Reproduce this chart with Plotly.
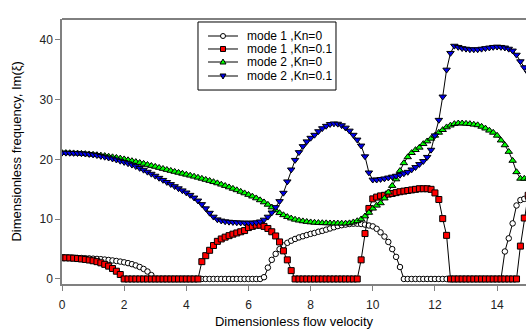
import plotly.graph_objects as go

# flow velocity grid (step 0.125, 0 .. 15)
velocity = [i * 0.125 for i in range(121)]

mode1_kn0 = [
    3.55, 3.55, 3.54, 3.53, 3.52, 3.50, 3.47, 3.44,
    3.40, 3.36, 3.31, 3.25, 3.18, 3.10, 3.01, 2.91,
    2.79, 2.65, 2.48, 2.27, 2.01, 1.68, 1.25, 0.65,
    0, 0, 0, 0, 0, 0, 0, 0,
    0, 0, 0, 0, 0, 0, 0, 0,
    0, 0, 0, 0, 0, 0, 0, 0,
    0, 0, 0, 0, 0.3, 1.9, 3.2, 4.2,
    5.0, 5.6, 6.05, 6.4, 6.7, 6.95, 7.15, 7.35,
    7.55, 7.7, 7.9, 8.05, 8.25, 8.45, 8.65, 8.85,
    9.0, 9.1, 9.2, 9.25, 9.25, 9.2, 9.1, 8.95,
    8.8, 8.4, 7.8, 7.1, 6.2, 5.0, 3.7, 2.0,
    0, 0, 0, 0, 0, 0, 0, 0,
    0, 0, 0, 0, 0, 0, 0, 0,
    0, 0, 0, 0, 0, 0, 0, 0,
    0, 0, 4.6, 6.8, 9.3, 12.3, 13.2, 13.4,
    13.5,
]

mode1_kn01 = [
    3.55, 3.54, 3.52, 3.48, 3.42, 3.35, 3.27, 3.17,
    3.05, 2.90, 2.70, 2.45, 2.15, 1.75, 1.30, 0.75,
    0, 0, 0, 0, 0, 0, 0, 0,
    0, 0, 0, 0, 0, 0, 0, 0,
    0, 0, 0, 0, 2.9, 3.9, 4.8, 5.6,
    6.3, 6.7, 7.0, 7.25, 7.5, 7.7, 7.9, 8.1,
    8.6, 8.8, 9.0, 9.0, 8.8, 8.45, 7.9, 7.2,
    6.2, 4.7, 3.2, 1.4, 0, 0, 0, 0,
    0, 0, 0, 0, 0, 0, 0, 0,
    0, 0, 0, 0, 0, 3.2, 7.6, 11.8,
    13.4, 13.7, 13.9, 14.0, 14.2, 14.3, 14.45, 14.6,
    14.7, 14.8, 14.9, 15.0, 15.1, 15.1, 15.1, 15.0,
    14.4, 13.3, 10.1, 7.3, 0, 0, 0, 0,
    0, 0, 0, 0, 0, 0, 0, 0,
    0, 0, 0, 0, 0, 0, 5.5, 10.2,
    14.0,
]

mode2_kn0 = [
    21.1, 21.1, 21.08, 21.05, 21.02, 20.98, 20.93, 20.88,
    20.82, 20.75, 20.68, 20.6, 20.5, 20.4, 20.3, 20.18,
    20.05, 19.9, 19.75, 19.6, 19.45, 19.3, 19.12, 18.95,
    18.8, 18.62, 18.45, 18.28, 18.12, 17.96, 17.8, 17.64,
    17.48, 17.32, 17.15, 16.98, 16.8, 16.62, 16.44, 16.24,
    16.04, 15.82, 15.6, 15.36, 15.12, 14.88, 14.62, 14.36,
    14.1, 13.82, 13.52, 13.2, 12.85, 12.45, 12.0, 11.5,
    11.05, 10.7, 10.4, 10.15, 9.95, 9.8, 9.68, 9.58,
    9.5, 9.44, 9.4, 9.37, 9.35, 9.33, 9.32, 9.31,
    9.3, 9.3, 9.35, 9.5, 9.7, 10.0, 10.5, 11.1,
    11.8, 12.3, 12.7, 13.5, 14.5, 15.6, 16.7, 18.1,
    19.4, 20.4, 21.1, 21.6, 22.0, 22.6, 23.05, 23.5,
    24.0, 24.5, 24.95, 25.4, 25.7, 25.95, 26.05, 26.05,
    26.0, 25.95, 25.85, 25.75, 25.5, 25.2, 24.85, 24.5,
    24.0, 23.2, 22.4, 21.3, 19.8, 17.9, 16.8, 16.8,
    16.8,
]

mode2_kn01 = [
    21.1, 21.1, 21.08, 21.06, 21.04, 21.0, 20.95, 20.88,
    20.8, 20.7, 20.55, 20.42, 20.28, 20.12, 19.95, 19.75,
    19.55, 19.33, 19.1, 18.85, 18.55, 18.25, 17.92, 17.58,
    17.25, 16.9, 16.55, 16.2, 15.85, 15.5, 15.15, 14.8,
    14.45, 14.05, 13.6, 13.1, 12.5, 11.8, 11.05, 10.4,
    9.95, 9.75, 9.62, 9.55, 9.5, 9.45, 9.42, 9.4,
    9.4, 9.4, 9.45, 9.6, 9.9, 10.4, 11.1, 12.0,
    13.0, 14.4, 16.3, 18.3, 19.9, 21.2, 22.2, 23.0,
    23.6, 24.1, 24.7, 25.2, 25.6, 25.9, 26.0, 25.95,
    25.7, 25.3, 24.8, 24.1, 23.3, 22.3, 20.5, 17.8,
    16.6, 16.6, 16.7, 16.8, 16.95, 17.1, 17.25, 17.4,
    17.65, 17.9, 18.3, 18.7, 19.2, 19.7, 20.4, 21.6,
    24.0, 26.6, 30.5, 35.0, 37.8, 39.0, 38.8, 38.6,
    38.5, 38.4, 38.4, 38.4, 38.5, 38.6, 38.7, 38.8,
    38.85, 38.8, 38.7, 38.5, 38.2, 37.5, 36.4, 35.4,
    34.5,
]

series_names = ["mode 1 ,Kn=0", "mode 1 ,Kn=0.1", "mode 2 ,Kn=0", "mode 2 ,Kn=0.1"]
x_ticks = [0, 2, 4, 6, 8, 10, 12, 14]
y_ticks = [0, 10, 20, 30, 40]

fill_colors = ["white", "#ff0000", "#00ff00", "#0000ee"]
symbols = ["circle", "square", "triangle-up", "triangle-down"]
sizes = [5.5, 6, 6.5, 6.5]

fig = go.Figure()
for name, vals, sym, col, sz in zip(series_names, [mode1_kn0, mode1_kn01, mode2_kn0, mode2_kn01],
                                     symbols, fill_colors, sizes):
    fig.add_trace(go.Scatter(
        x=velocity, y=vals, name=name, mode="lines+markers", showlegend=False,
        line=dict(color="black", width=1),
        marker=dict(symbol=sym, color=col, size=sz, line=dict(color="black", width=1)),
    ))

# ---- compact legend drawn as layout shapes + annotations (paper coords) ----
shapes = [
    dict(type="line", xref="paper", yref="paper", x0=0, x1=1, y0=1, y1=1,
         line=dict(color="black", width=1)),
    dict(type="rect", xref="paper", yref="paper", x0=0.2931, x1=0.5905, y0=0.732, y1=0.9887,
         fillcolor="white", line=dict(color="black", width=1), layer="above"),
]
annotations = []
row_y = [0.9358, 0.8868, 0.8377, 0.7849]
lx0, lx1, lxm, tx = 0.3147, 0.3793, 0.347, 0.3944
glyph_paths = {
    "square": "M-2.5,-2.5 L2.5,-2.5 L2.5,2.5 L-2.5,2.5 Z",
    "triangle-up": "M0,3 L3,-2 L-3,-2 Z",
    "triangle-down": "M0,-3 L3,2 L-3,2 Z",
}
for name, sym, col, yy in zip(series_names, symbols, fill_colors, row_y):
    shapes.append(dict(type="line", xref="paper", yref="paper", x0=lx0, x1=lx1, y0=yy, y1=yy,
                       line=dict(color="black", width=1), layer="above"))
    if sym == "circle":
        shapes.append(dict(type="circle", xref="paper", yref="paper",
                           xsizemode="pixel", ysizemode="pixel", xanchor=lxm, yanchor=yy,
                           x0=-2.5, x1=2.5, y0=-2.5, y1=2.5,
                           fillcolor=col, line=dict(color="black", width=1), layer="above"))
    else:
        shapes.append(dict(type="path", xref="paper", yref="paper",
                           xsizemode="pixel", ysizemode="pixel", xanchor=lxm, yanchor=yy,
                           path=glyph_paths[sym],
                           fillcolor=col, line=dict(color="black", width=1), layer="above"))
    annotations.append(dict(text=name, xref="paper", yref="paper", x=tx, y=yy,
                            xanchor="left", yanchor="middle", showarrow=False,
                            font=dict(size=12, color="black")))

# y-axis title placed as a rotated annotation to match the reference position
annotations.append(dict(text="Dimensionless frequency, Im(ξ)", xref="paper", yref="paper",
                        x=-0.0991, y=0.5, xanchor="center", yanchor="middle",
                        textangle=-90, showarrow=False, font=dict(size=13, color="black")))

font_family = "Liberation Sans, Arial, sans-serif"
fig.update_layout(
    width=526, height=331,
    margin=dict(l=62, r=0, t=19, b=47),
    paper_bgcolor="white", plot_bgcolor="white",
    font=dict(family=font_family, size=12, color="black"),
    xaxis=dict(
        range=[0, 14.93], tickvals=x_ticks, showgrid=False, zeroline=False,
        showline=True, linecolor="#808080", linewidth=1.5,
        ticks="outside", ticklen=5, tickcolor="#808080",
        tickfont=dict(size=12, color="#222"), ticklabelstandoff=4,
        title=dict(text="Dimensionless flow velocity", font=dict(size=13), standoff=6),
    ),
    yaxis=dict(
        range=[-0.84, 43.5], tickvals=y_ticks, showgrid=False, zeroline=False,
        showline=True, linecolor="#808080", linewidth=1.5,
        ticks="outside", ticklen=5, tickcolor="#808080",
        tickfont=dict(size=12, color="#222"),
    ),
    shapes=shapes,
    annotations=annotations,
)

fig.write_html("out.html", config={"displayModeBar": False},
               post_script="document.body.style.margin='0px';")
